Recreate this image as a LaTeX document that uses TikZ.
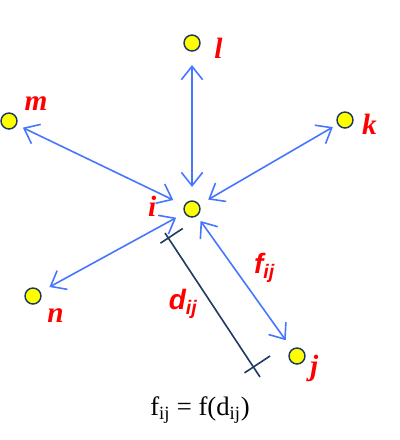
\documentclass[tikz,border=0pt]{standalone}
\usepackage{fontspec}
\setmainfont{Liberation Serif}
\newfontfamily\sanslab{Liberation Sans}
\usepackage{xcolor}
\definecolor{dotyellow}{RGB}{255,255,0}
\definecolor{rimnavy}{RGB}{31,58,96}
\definecolor{forceblue}{RGB}{70,118,255}
\definecolor{labred}{RGB}{255,0,0}
\usetikzlibrary{arrows.meta,positioning,calc}

\begin{document}
\begin{tikzpicture}[x=0.75pt,y=-0.75pt,
particle/.style={circle,draw=rimnavy,fill=dotyellow,line width=1.1pt,minimum size=12pt,inner sep=0pt},
lab/.style={text=labred,inner sep=0pt,font=\fontsize{22}{26}\selectfont\bfseries\itshape},
symlab/.style={text=labred,inner sep=0pt,font=\sanslab\fontsize{21}{24}\selectfont\bfseries\itshape},
force/.style={{Straight Barb[length=10pt,width=16pt]}-{Straight Barb[length=10pt,width=16pt]},line width=1.2pt,draw=forceblue,shorten <=7pt,shorten >=7pt},
dist/.style={line width=1.2pt,draw=rimnavy}]
\useasboundingbox (0,0) rectangle (400,440);
% particles
\node[particle] (i) at (192,209) {};
\node[particle] (l) at (192,43) {};
\node[particle] (m) at (9,121) {};
\node[particle] (k) at (345,120) {};
\node[particle] (n) at (33,296) {};
\node[particle] (j) at (297,356) {};
% names
\node[lab,left=20pt of i,yshift=2pt] (ilab) {i};
\node[lab,right=10pt of l,yshift=-4pt] (llab) {l};
\node[lab,right=5pt of m,yshift=13pt] (mlab) {m};
\node[lab,right=6pt of k,yshift=-3pt] (klab) {k};
\node[lab,right=4pt of n,yshift=-15pt] (nlab) {n};
\node[lab,right=3pt of j,yshift=-9pt] (jlab) {j};
% forces
\draw[force,shorten <=10pt,shorten >=10pt] (i) -- (l);
\draw[force,shorten <=9pt,shorten >=5pt] (i) -- (m);
\draw[force,shorten <=7.5pt,shorten >=4pt] (i) -- (k);
\draw[force,shorten <=7pt,shorten >=7.5pt] (i) -- (n);
\draw[force,shorten <=4.5pt,shorten >=8pt] (i) -- node[symlab,xshift=15pt,yshift=11pt] (flab) {f\textsubscript{ij}} (j);
% distance
\coordinate (dtop) at (165,233);
\coordinate (dbot) at (260,377);
\draw[dist] (dtop) -- node[symlab,xshift=-22pt,yshift=1pt] (dlab) {d\textsubscript{ij}} (dbot);
\coordinate (ttop) at ($(dtop)!4.5pt!(dbot)$);
\coordinate (tbot) at ($(dbot)!9pt!(dtop)$);
\draw[dist] ($(ttop)!7pt!-90:(dbot)$) -- ($(ttop)!13pt!90:(dbot)$);
\draw[dist] ($(tbot)!8pt!90:(dtop)$) -- ($(tbot)!15pt!-90:(dtop)$);
% law
\node[font=\fontsize{20}{24}\selectfont] (law) at (200,410) {f\textsubscript{ij} = f(d\textsubscript{ij})};
\end{tikzpicture}
\end{document}
